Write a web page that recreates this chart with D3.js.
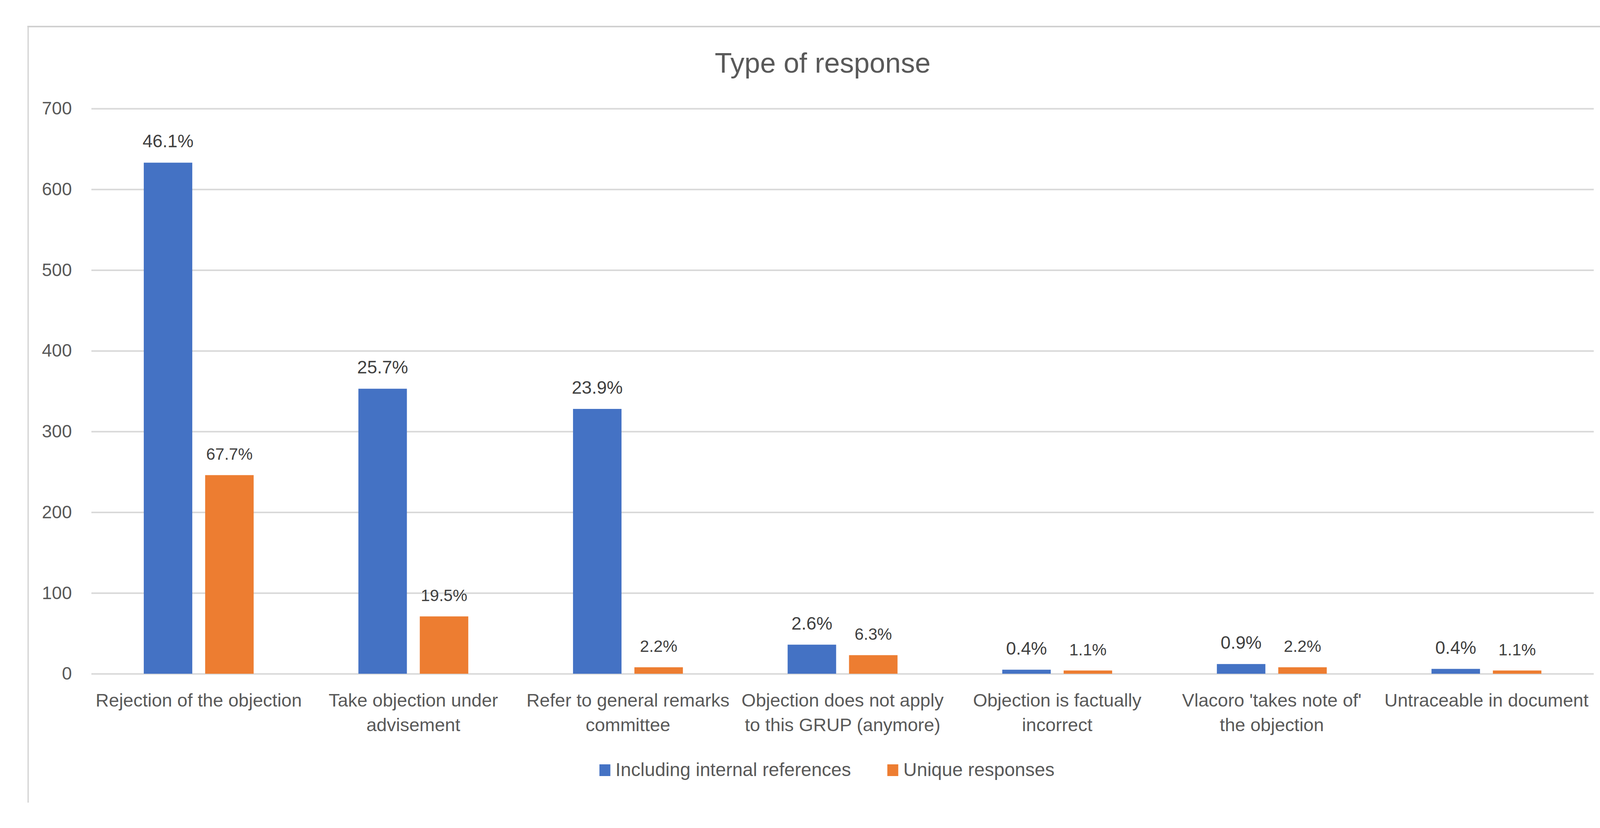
<!DOCTYPE html>
<html>
<head>
<meta charset="utf-8">
<script src="https://cdn.jsdelivr.net/npm/d3@7"></script>
<style>
  body { margin: 0; background: #fff; }
  text { font-family: "Liberation Sans", Arial, sans-serif; }
</style>
</head>
<body>
<div id="chart"></div>
<script>
// data
var categories = [
  ["Rejection of the objection"],
  ["Take objection under", "advisement"],
  ["Refer to general remarks", "committee"],
  ["Objection does not apply", "to this GRUP (anymore)"],
  ["Objection is factually", "incorrect"],
  ["Vlacoro 'takes note of'", "the objection"],
  ["Untraceable in document"]
];
var seriesNames = ["Including internal references", "Unique responses"];
var includingValues = [633, 353, 328, 36, 5, 12, 6];
var uniqueValues = [246, 71, 8, 23, 4, 8, 4];
var includingLabels = ["46.1%", "25.7%", "23.9%", "2.6%", "0.4%", "0.9%", "0.4%"];
var uniqueLabels = ["67.7%", "19.5%", "2.2%", "6.3%", "1.1%", "2.2%", "1.1%"];
var yTicks = [0, 100, 200, 300, 400, 500, 600, 700];
var colors = ["#4472C4", "#ED7D31"];

var W = 4217, H = 2120;
var margin = { top: 278, right: W - 4080, bottom: H - 1725, left: 234 };
var width = W - margin.left - margin.right,
    height = H - margin.top - margin.bottom;

var svg = d3.select("#chart").append("svg")
    .attr("width", W)
    .attr("height", H);

svg.append("rect").attr("width", W).attr("height", H).attr("fill", "#fff");

// chart area border, only top and left edges show
svg.append("line").attr("x1", 70).attr("x2", 4140).attr("y1", 68).attr("y2", 68)
    .attr("stroke", "#D0D0D0").attr("stroke-width", 4);
svg.append("line").attr("x1", 72).attr("x2", 72).attr("y1", 66).attr("y2", 2055)
    .attr("stroke", "#D0D0D0").attr("stroke-width", 3);

svg.append("text")
    .attr("x", 2106).attr("y", 186)
    .attr("text-anchor", "middle")
    .attr("font-size", 72)
    .attr("fill", "#595959")
    .text("Type of response");

var g = svg.append("g")
    .attr("transform", "translate(" + margin.left + "," + margin.top + ")");

var y = d3.scaleLinear().domain([0, 700]).range([height, 0]);

var x0 = d3.scaleBand()
    .domain(d3.range(categories.length))
    .range([0, width]);

var x1 = d3.scaleBand()
    .domain([0, 1])
    .range([x0.bandwidth() * 0.244, x0.bandwidth() * 0.756])
    .paddingInner(0.21);

// gridlines + y labels
var yAxis = d3.axisLeft(y)
    .tickValues(yTicks)
    .tickSize(-width)
    .tickPadding(50);

var gy = g.append("g").call(yAxis);
gy.select(".domain").remove();
gy.selectAll(".tick line").attr("stroke", "#D9D9D9").attr("stroke-width", 4);
gy.selectAll(".tick text")
    .attr("font-size", 46)
    .attr("fill", "#595959");

var groups = g.selectAll(".grp")
    .data(categories)
    .enter().append("g")
    .attr("class", "grp")
    .attr("transform", function (d, i) { return "translate(" + x0(i) + ",0)"; });

var seriesVals = [includingValues, uniqueValues];
var seriesLabels = [includingLabels, uniqueLabels];
var labelSizes = [46, 42];

seriesVals.forEach(function (vals, s) {
    groups.append("rect")
        .attr("x", x1(s))
        .attr("width", x1.bandwidth())
        .attr("y", function (d, i) { return y(vals[i]); })
        .attr("height", function (d, i) { return height - y(vals[i]); })
        .attr("fill", colors[s]);

    groups.append("text")
        .attr("x", x1(s) + x1.bandwidth() / 2)
        .attr("y", function (d, i) { return y(vals[i]) - 39; })
        .attr("text-anchor", "middle")
        .attr("font-size", labelSizes[s])
        .attr("fill", "#404040")
        .text(function (d, i) { return seriesLabels[s][i]; });
});

// category labels (two lines where Excel wrapped them)
var cat = groups.append("text")
    .attr("text-anchor", "middle")
    .attr("font-size", 47)
    .attr("fill", "#595959");
cat.selectAll("tspan")
    .data(function (d) { return d; })
    .enter().append("tspan")
    .attr("x", x0.bandwidth() / 2)
    .attr("y", function (d, i) { return height + 84 + i * 63; })
    .text(function (d) { return d; });

// legend
var legend = svg.append("g");
var items = legend.selectAll("g")
    .data(seriesNames)
    .enter().append("g");
items.append("rect")
    .attr("width", 28).attr("height", 30)
    .attr("y", 1957)
    .attr("fill", function (d, i) { return colors[i]; });
items.append("text")
    .attr("x", 41)
    .attr("y", 1987)
    .attr("font-size", 48)
    .attr("fill", "#595959")
    .text(function (d) { return d; });

var widths = [];
items.select("text").each(function () { widths.push(this.getComputedTextLength()); });
var total = 41 + widths[0] + 93 + 41 + widths[1];
var lx = 2117 - total / 2;
items.attr("transform", function (d, i) {
    var off = i === 0 ? lx : lx + 41 + widths[0] + 93;
    return "translate(" + off + ",0)";
});
</script>
</body>
</html>
